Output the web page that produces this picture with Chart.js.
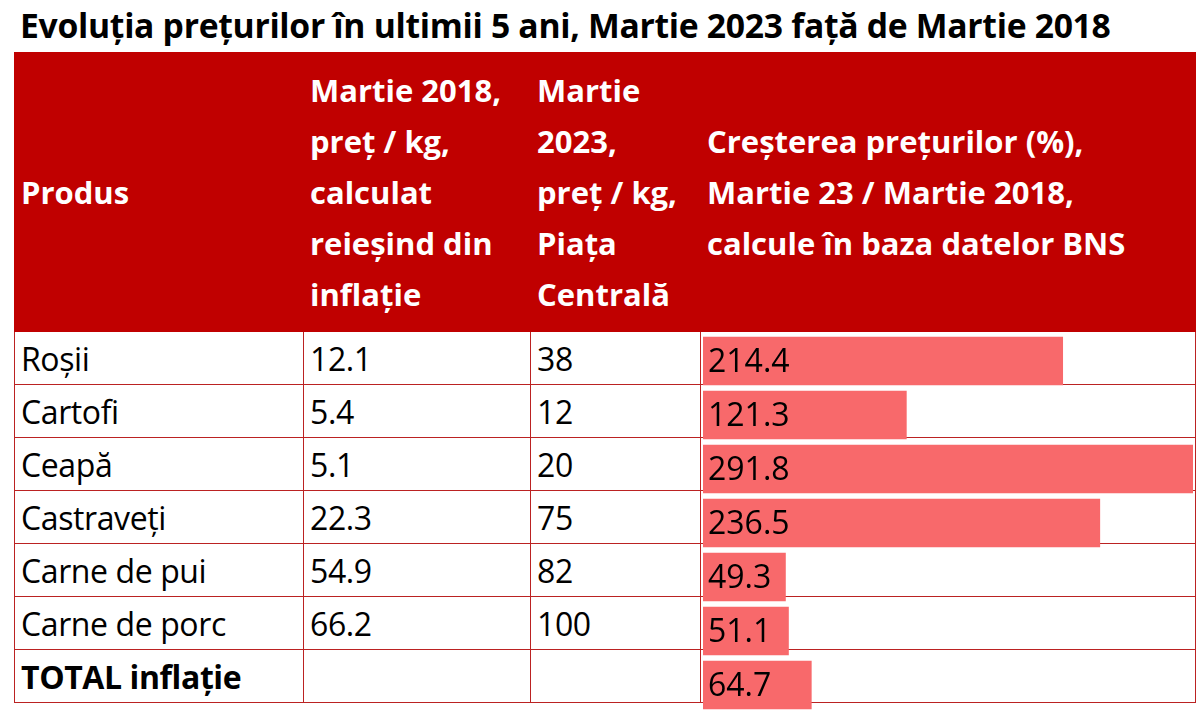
<!DOCTYPE html>
<html><head><meta charset="utf-8">
<script src="https://cdn.jsdelivr.net/npm/chart.js@4"></script>
<style>
body{margin:0;background:#fff;width:1200px;height:721px;overflow:hidden;position:relative;font-family:"Open Sans",sans-serif;}
#title{position:absolute;left:20px;top:2px;font-weight:bold;font-size:33.7px;letter-spacing:-0.3px;color:#000;white-space:nowrap}
table{position:absolute;left:14px;top:52px;width:1181px;border-collapse:collapse;table-layout:fixed}
td{border:1.5px solid #b22;font-size:32px;padding:0 0 0 6px;height:52px;white-space:nowrap;overflow:hidden;letter-spacing:-0.4px}
tr.h td{background:#C00000;color:#fff;font-weight:bold;height:278px;border-color:#C00000;line-height:51px;vertical-align:middle;font-size:31px;letter-spacing:0}
#c{position:absolute;left:700px;top:332px}
</style></head><body>
<div id="title">Evoluția prețurilor în ultimii 5 ani, Martie 2023 față de Martie 2018</div>
<table id="t"></table>
<canvas id="c" width="495" height="380"></canvas>
<script>
const headers=["Produs","Martie 2018,<br>preț / kg,<br>calculat<br>reieșind din<br>inflație","Martie<br>2023,<br>preț / kg,<br>Piața<br>Centrală","Creșterea prețurilor (%),<br>Martie 23 / Martie 2018,<br>calcule în baza datelor BNS"];
const products=["Roșii","Cartofi","Ceapă","Castraveți","Carne de pui","Carne de porc","TOTAL inflație"];
const price2018=["12.1","5.4","5.1","22.3","54.9","66.2",""];
const price2023=["38","12","20","75","82","100",""];
const growth=[214.4,121.3,291.8,236.5,49.3,51.1,64.7];
const t=document.getElementById('t');
let h='<colgroup><col style="width:289px"><col style="width:227px"><col style="width:170px"><col style="width:495px"></colgroup>';
h+='<tr class="h">'+headers.map(x=>'<td>'+x+'</td>').join('')+'</tr>';
products.forEach((p,i)=>{h+='<tr><td'+(i==6?' style="font-weight:bold"':'')+'>'+p+'</td><td>'+price2018[i]+'</td><td>'+price2023[i]+'</td><td></td></tr>';});
t.innerHTML=h;
const lbl={id:'lbl',afterDatasetsDraw(ch){const c=ch.ctx;c.save();c.font='32px "Open Sans"';c.fillStyle='#000';c.textBaseline='middle';
ch.getDatasetMeta(0).data.forEach((b,i)=>{c.fillText(growth[i].toFixed(1),8,b.y+2);});c.restore();}};
new Chart(document.getElementById('c'),{type:'bar',data:{labels:products,datasets:[{data:growth,backgroundColor:'#F8696B',barPercentage:0.9,categoryPercentage:1}]},
options:{indexAxis:'y',responsive:false,animation:false,layout:{padding:{left:3,right:2,top:2,bottom:0}},
plugins:{legend:{display:false},tooltip:{enabled:false}},
scales:{x:{display:false,min:0,max:291.8},y:{display:false}}},plugins:[lbl]});
</script></body></html>
